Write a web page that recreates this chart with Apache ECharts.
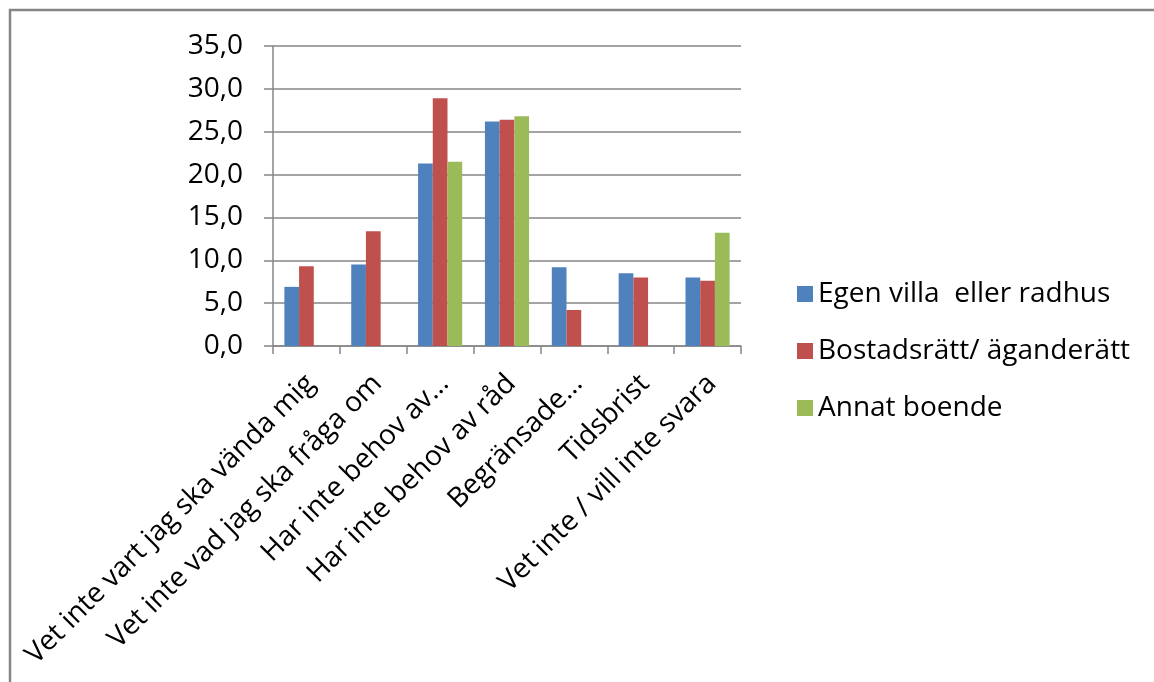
<!DOCTYPE html>
<html>
<head>
<meta charset="utf-8">
<script src="https://cdn.jsdelivr.net/npm/echarts@6/dist/echarts.min.js"></script>
<style>
html,body{margin:0;padding:0;background:#fff;}
#c{width:1154px;height:682px;}
</style>
</head>
<body>
<div id="c"></div>
<script>
var categories = ['Vet inte vart jag ska vända mig','Vet inte vad jag ska fråga om','Har inte behov av…','Har inte behov av råd','Begränsade…','Tidsbrist','Vet inte / vill inte svara'];
var seriesNames = ['Egen villa  eller radhus','Bostadsrätt/ äganderätt','Annat boende'];
var villa  = [6.9, 9.5, 21.3, 26.2, 9.2, 8.5, 8.0];
var bostad = [9.3, 13.4, 28.9, 26.4, 4.2, 8.0, 7.6];
var annat  = [null, null, 21.5, 26.8, null, null, 13.2];
var colors = ['#4F81BD','#C0504D','#9BBB59'];

var FONT = 'Open Sans';
var FS = 28;
var chart = echarts.init(document.getElementById('c'), null, {renderer:'canvas'});
var gray = '#868686';
function mk(name, data, i){
  return {name:name, type:'bar', data:data, barGap:'0%', barCategoryGap:'34%',
    itemStyle:{color:colors[i]}, animation:false};
}
chart.setOption({
  animation:false,
  textStyle:{fontFamily:FONT},
  graphic:[{type:'rect', shape:{x:10, y:10, width:2000, height:2000},
    style:{fill:null, stroke:gray, lineWidth:2.5}, silent:true, z:-1}],
  grid:{left:273, right:413, top:46, bottom:336, containLabel:false},
  legend:{orient:'vertical', left:792, top:274, itemWidth:16, itemHeight:16, itemGap:27,
    icon:'rect', textStyle:{fontFamily:FONT, fontSize:FS, color:'#000', lineHeight:30, padding:[0,0,0,0]},
    data:seriesNames},
  xAxis:{type:'category', data:categories,
    axisLine:{lineStyle:{color:gray, width:1.5}},
    axisTick:{show:true, length:8, lineStyle:{color:gray, width:1.5}},
    axisLabel:{rotate:45, margin:29, interval:0, verticalAlign:'top', lineHeight:12,
      fontFamily:FONT, fontSize:FS, color:'#000'}},
  yAxis:{type:'value', min:0, max:35, interval:5,
    axisLine:{show:true, lineStyle:{color:gray, width:1.5}},
    axisTick:{show:true, length:9, lineStyle:{color:gray, width:1.5}},
    splitLine:{lineStyle:{color:gray, width:1.5}},
    axisLabel:{margin:30, fontFamily:FONT, fontSize:FS, color:'#000',
      formatter:function(v){return v.toFixed(1).replace('.',',');}}},
  series:[mk(seriesNames[0], villa, 0), mk(seriesNames[1], bostad, 1), mk(seriesNames[2], annat, 2)]
});
</script>
</body>
</html>
